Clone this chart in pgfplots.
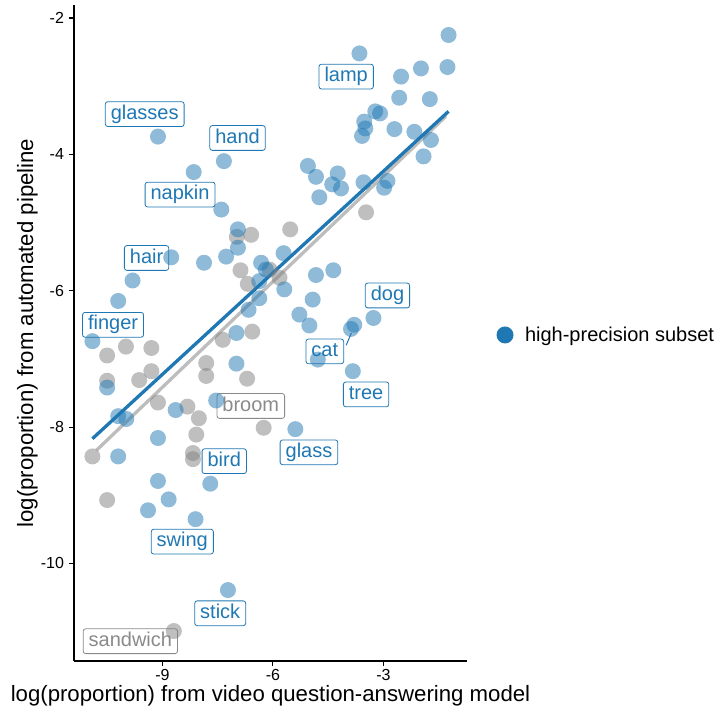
\documentclass[border=0pt]{standalone}
\usepackage{fontspec}
\setmainfont{Liberation Sans}
\usepackage{pgfplots}
\pgfplotsset{compat=1.18}
\definecolor{hpblue}{HTML}{1F78B4}
\definecolor{ptgray}{HTML}{808080}
\definecolor{lblgray}{HTML}{8A8A8A}
\definecolor{linegray}{HTML}{BDBDBD}
\tikzset{
  lbl/.style={draw=hpblue, text=hpblue, fill=white, rounded corners=2.5pt, line width=0.8pt,
    inner xsep=5.5pt, inner ysep=2.75pt, text height=14.8pt, text depth=4.5pt,
    font=\fontsize{20}{24}\selectfont},
  glbl/.style={lbl, draw=lblgray, text=lblgray}
}
\begin{document}
\begin{tikzpicture}[x=1pt,y=1pt]
\path[use as bounding box] (0,0) rectangle (718,715);
\begin{axis}[
  at={(74pt,54pt)}, anchor=south west,
  scale only axis, width=393pt, height=656pt,
  xmin=-11.40, xmax=-0.73, ymin=-11.43, ymax=-1.81,
  axis x line*=bottom, axis y line*=left,
  axis line style={-, line width=1.2pt, black},
  tick align=outside, major tick length=5pt,
  every tick/.style={line width=1.2pt, black},
  xtick={-9,-6,-3}, xticklabels={{-9},{-6},{-3}},
  ytick={-10,-8,-6,-4,-2}, yticklabels={{-10},{-8},{-6},{-4},{-2}},
  tick label style={font=\fontsize{16}{19}\selectfont, black},
  yticklabel style={xshift=-1.5pt},
  xlabel={log(proportion) from video question-answering model},
  ylabel={log(proportion) from automated pipeline},
  label style={font=\fontsize{22.2}{26}\selectfont, black},
  xlabel style={at={(axis description cs:0.5,-0.0625)}, anchor=base},
  ylabel style={at={(axis description cs:-0.1043,0.5)}, anchor=base, rotate=0},
  clip=false,
  legend style={at={(axis description cs:1.0751,0.497)}, anchor=west, draw=none, fill=none,
    inner sep=0pt, outer sep=0pt, font=\fontsize{20}{24}\selectfont, nodes={inner sep=0pt}},
]
\addlegendimage{legend image code/.code={\path[draw=none,fill=none] (0pt,-8.5pt) rectangle (28.5pt,8.5pt); \fill[hpblue,draw=none] (8.5pt,0pt) circle (8.5pt);}}
\addlegendentry{high-precision subset}

% gray points (all other categories)
\addplot[only marks, mark=*, mark size=8pt, color=ptgray, mark options={fill=ptgray, fill opacity=0.5, draw opacity=0, line width=0pt}, forget plot] table {
x y
-6.59 -5.18
-6.98 -5.21
-3.47 -4.85
-5.53 -5.10
-6.88 -5.70
-6.68 -5.90
-6.09 -5.69
-5.82 -5.81
-6.56 -6.60
-7.36 -6.72
-6.70 -7.29
-7.81 -7.06
-7.81 -7.25
-9.30 -6.84
-9.99 -6.82
-10.50 -6.95
-9.30 -7.18
-9.63 -7.31
-10.50 -7.32
-9.12 -7.64
-8.32 -7.70
-8.01 -7.87
-6.25 -8.01
-8.08 -8.11
-10.90 -8.43
-8.17 -8.38
-8.17 -8.47
-10.50 -9.07
-8.69 -10.99
};

% high-precision subset
\addplot[only marks, mark=*, mark size=8pt, color=hpblue, mark options={fill=hpblue, fill opacity=0.5, draw opacity=0, line width=0pt}, forget plot] table {
x y
-9.12 -3.74
-7.33 -4.10
-8.15 -4.26
-7.40 -4.81
-6.95 -5.10
-3.65 -2.52
-1.23 -2.25
-1.26 -2.72
-1.98 -2.74
-2.52 -2.86
-2.57 -3.17
-1.74 -3.19
-3.22 -3.37
-3.09 -3.40
-3.52 -3.52
-3.49 -3.62
-3.58 -3.73
-2.70 -3.63
-2.16 -3.67
-1.71 -3.79
-1.91 -4.03
-5.05 -4.17
-4.83 -4.33
-4.24 -4.28
-4.39 -4.44
-4.15 -4.50
-4.74 -4.63
-3.54 -4.41
-2.89 -4.39
-2.98 -4.49
-6.95 -5.37
-7.27 -5.50
-8.76 -5.51
-7.87 -5.59
-9.81 -5.85
-10.20 -6.15
-10.90 -6.74
-6.32 -5.59
-6.19 -5.69
-6.37 -5.86
-6.37 -6.11
-6.66 -6.28
-6.99 -6.62
-6.99 -7.07
-10.50 -7.42
-8.64 -7.75
-10.20 -7.84
-9.98 -7.88
-7.54 -7.61
-9.12 -8.16
-10.20 -8.43
-9.12 -8.79
-7.70 -8.83
-8.83 -9.06
-9.39 -9.22
-8.10 -9.35
-7.22 -10.39
-5.71 -5.45
-5.69 -5.98
-4.83 -5.77
-4.36 -5.70
-4.92 -6.13
-5.28 -6.35
-5.01 -6.51
-3.27 -6.40
-3.79 -6.50
-3.88 -6.56
-4.78 -7.01
-3.83 -7.18
-5.39 -8.03
};

% fitted lines
\addplot[linegray, line width=3.3pt, forget plot] coordinates {(-10.79,-8.34) (-1.30,-3.44)};
\addplot[hpblue, line width=3.3pt, forget plot] coordinates {(-10.90,-8.17) (-1.23,-3.37)};

\draw[hpblue, line width=1pt] (axis cs:-4.01,-6.80) -- (axis cs:-3.87,-6.62);

\node[lbl] at (axis cs:-4.01,-2.86) {lamp};
\node[lbl] at (axis cs:-9.48,-3.41) {glasses};
\node[lbl] at (axis cs:-6.96,-3.76) {hand};
\node[lbl] at (axis cs:-8.52,-4.59) {napkin};
\node[lbl] at (axis cs:-9.43,-5.52) {hair};
\node[lbl] at (axis cs:-10.34,-6.50) {finger};
\node[lbl] at (axis cs:-2.89,-6.07) {dog};
\node[lbl] at (axis cs:-4.59,-6.89) {cat};
\node[lbl] at (axis cs:-3.47,-7.52) {tree};
\node[glbl] at (axis cs:-6.60,-7.69) {broom};
\node[lbl] at (axis cs:-5.02,-8.37) {glass};
\node[lbl] at (axis cs:-7.32,-8.50) {bird};
\node[lbl] at (axis cs:-8.46,-9.68) {swing};
\node[lbl] at (axis cs:-7.43,-10.73) {stick};
\node[glbl] at (axis cs:-9.87,-11.14) {sandwich};
\end{axis}
\end{tikzpicture}
\end{document}
